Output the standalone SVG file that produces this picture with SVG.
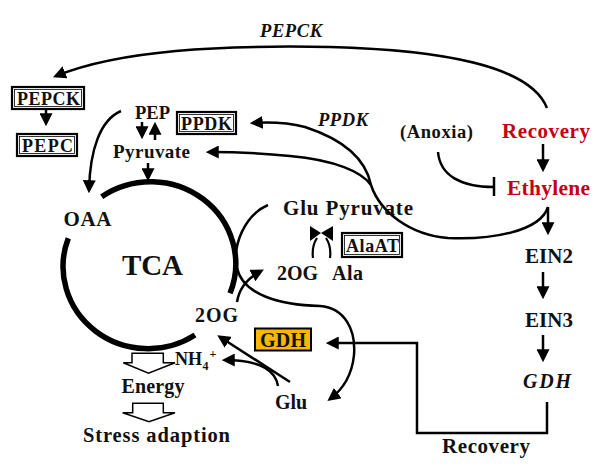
<svg xmlns="http://www.w3.org/2000/svg" width="599" height="473" viewBox="0 0 599 473">
<style>
.t{font-family:"Liberation Serif","Times New Roman",serif;font-weight:bold;fill:#111;}
.i{font-style:italic;}
.red{fill:#C40018;}
.ln{fill:none;stroke:#000;stroke-width:2.5;}
.ar{fill:none;stroke:#000;stroke-width:2.5;marker-end:url(#ah);}
.bo{fill:#fff;stroke:#000;stroke-width:2.2;}
.bi{fill:none;stroke:#000;stroke-width:0.8;}
.blk{fill:#fff;stroke:#000;stroke-width:1.5;stroke-linejoin:miter;}
</style>
<defs>
<marker id="ah" markerUnits="userSpaceOnUse" viewBox="0 0 12 12" refX="9" refY="6" markerWidth="13" markerHeight="13" orient="auto">
<path d="M0,0 L12,6 L0,12 z" fill="#000"/>
</marker>
</defs>
<rect width="599" height="473" fill="#fff"/>

<g id="connectors">
<!-- Recovery to PEPCK -->
<path class="ar" d="M547,108 C530,65 440,50 330,47 C220,45 120,50 56,76"/>
<!-- PEPCK to PEPC -->
<path class="ar" d="M46,109 L46,123"/>
<!-- PEP to OAA -->
<path class="ar" d="M121,111 C100,120 90,150 89,190"/>
<!-- PEP <-> Pyruvate -->
<path class="ar" d="M142,122 L142,136"/>
<path class="ar" d="M155,140 L155,125"/>
<!-- Pyruvate to TCA -->
<path class="ar" d="M148,163 L148,178"/>
<!-- TCA cycle -->
<path fill="none" stroke="#000" stroke-width="5.5" d="M101.7,196.7 A85,82 0 0 1 230,293.3"/>
<path fill="none" stroke="#000" stroke-width="5.5" d="M195,335 A85,82 0 0 1 68.3,238.3"/>
<!-- Glu/2OG loop -->
<path class="ar" d="M268,205 C245,215 232,245 237,268 C243,295 280,305 320,306 C345,308 356,330 354,355 C352,375 342,390 330,399"/>
<!-- 2OG to 2OG Ala -->
<path class="ar" d="M237,302 Q240,282 261,271"/>
<!-- Glu to 2OG -->
<path class="ar" d="M290,382 L220,337"/>
<!-- Glu to NH4+ -->
<path class="ar" d="M278,386 C276,372 262,360 225,360"/>
<!-- Ethylene branch curves -->
<path class="ln" d="M548,207 C540,232 490,240 448,238 C410,235 380,212 371,185"/>
<path class="ar" d="M371,185 C366,160 345,140 305,127 C285,122 270,122 253,123"/>
<path class="ar" d="M371,185 C362,172 335,160 290,156 C260,153 235,152 209,152"/>
<!-- Ethylene to EIN2 -->
<path class="ar" d="M548,207 L548,232"/>
<!-- Recovery to Ethylene -->
<path class="ar" d="M543,144 L543,169"/>
<!-- Anoxia inhibits Ethylene -->
<path class="ln" d="M438,152 C440,175 460,187 494,187"/>
<path class="ln" d="M494,177 L494,196"/>
<!-- EIN2 to EIN3 to GDH -->
<path class="ar" d="M543,272 L543,296"/>
<path class="ar" d="M543,335 L543,359"/>
<!-- GDH gene to GDH enzyme (Recovery) -->
<path class="ar" d="M547,402 L547,433 L417,433 L417,343 L329,343"/>
<!-- block arrows -->
<path class="blk" d="M132,353.3 L163.3,353.3 L163.3,362.7 L175,362.7 L148.5,373.3 L123.3,362.7 L132,362.7 z"/>
<path class="blk" d="M132.7,403.3 L163.3,403.3 L163.3,412.7 L175,412.7 L149,421.7 L122.7,412.7 L132.7,412.7 z"/>
</g>

<g id="alaat-symbol">
<polygon points="310,226 321,233 310,241" fill="#000"/>
<polygon points="333,226 321,233 333,241" fill="#000"/>
<path d="M317,238 C313,244 312,250 313,258" fill="none" stroke="#000" stroke-width="2.2"/>
<path d="M326,238 C330,244 331,250 330,258" fill="none" stroke="#000" stroke-width="2.2"/>
</g>

<g id="n-pepck-top"><text class="t i" x="260" y="36.5" font-size="18.5" textLength="62">PEPCK</text></g>
<g id="n-pepck">
<rect class="bo" x="12" y="87" width="72" height="22"/>
<rect class="bi" x="14.5" y="89.5" width="67" height="17"/>
<text class="t" x="17" y="104.5" font-size="18" textLength="63">PEPCK</text>
</g>
<g id="n-pepc">
<rect class="bo" x="17" y="134" width="60" height="22"/>
<rect class="bi" x="19.5" y="136.5" width="55" height="17"/>
<text class="t" x="22" y="151.5" font-size="18" textLength="51">PEPC</text>
</g>
<g id="n-pep"><text class="t" x="135" y="118.5" font-size="18.5" textLength="35">PEP</text></g>
<g id="n-ppdk-box">
<rect class="bo" x="177" y="112" width="59" height="22"/>
<rect class="bi" x="179.5" y="114.5" width="54" height="17"/>
<text class="t" x="181" y="130" font-size="18" textLength="51">PPDK</text>
</g>
<g id="n-pyruvate"><text class="t" x="113" y="158" font-size="19" textLength="77">Pyruvate</text></g>
<g id="n-oaa"><text class="t" x="63.5" y="226" font-size="21" textLength="48">OAA</text></g>
<g id="n-tca"><text class="t" x="122" y="275" font-size="29" textLength="61">TCA</text></g>
<g id="n-glu-pyr"><text class="t" x="283" y="215" font-size="21" textLength="130">Glu Pyruvate</text></g>
<g id="n-alaat">
<rect class="bo" x="342" y="233" width="60" height="24"/>
<rect class="bi" x="344.5" y="235.5" width="55" height="19"/>
<text class="t" x="346" y="252" font-size="18" textLength="53">AlaAT</text>
</g>
<g id="n-2og-ala"><text class="t" font-size="20" y="280"><tspan x="277" textLength="41">2OG</tspan><tspan x="332" textLength="31">Ala</tspan></text></g>
<g id="n-2og"><text class="t" x="195" y="321.5" font-size="20" textLength="43">2OG</text></g>
<g id="n-gdh-enzyme">
<rect x="255" y="328.5" width="56" height="22" fill="#F8B800" stroke="#000" stroke-width="2"/>
<text class="t" x="260" y="346.5" font-size="20" textLength="46">GDH</text>
</g>
<g id="n-nh4">
<text class="t" x="175" y="365" font-size="18">NH</text>
<text class="t" x="202.5" y="370" font-size="12">4</text>
<text class="t" x="209.5" y="358" font-size="12">+</text>
</g>
<g id="n-energy"><text class="t" x="121.5" y="393" font-size="20" textLength="63">Energy</text></g>
<g id="n-stress"><text class="t" x="83" y="442" font-size="20.5" textLength="147">Stress adaption</text></g>
<g id="n-glu"><text class="t" x="275" y="409" font-size="20" textLength="32">Glu</text></g>
<g id="n-ppdk-label"><text class="t i" x="318" y="126" font-size="18.5" textLength="50">PPDK</text></g>
<g id="n-anoxia"><text class="t" x="400" y="137.5" font-size="18.5" textLength="73">(Anoxia)</text></g>
<g id="n-recovery-red"><text class="t red" x="502" y="137.5" font-size="21" textLength="88">Recovery</text></g>
<g id="n-ethylene"><text class="t red" x="507" y="195" font-size="21.5" textLength="83">Ethylene</text></g>
<g id="n-ein2"><text class="t" x="525" y="263" font-size="21" textLength="48">EIN2</text></g>
<g id="n-ein3"><text class="t" x="525" y="326.5" font-size="21" textLength="48">EIN3</text></g>
<g id="n-gdh-gene"><text class="t i" x="523" y="388" font-size="20" textLength="48">GDH</text></g>
<g id="n-recovery-bottom"><text class="t" x="442" y="452.5" font-size="21" textLength="88">Recovery</text></g>
</svg>
